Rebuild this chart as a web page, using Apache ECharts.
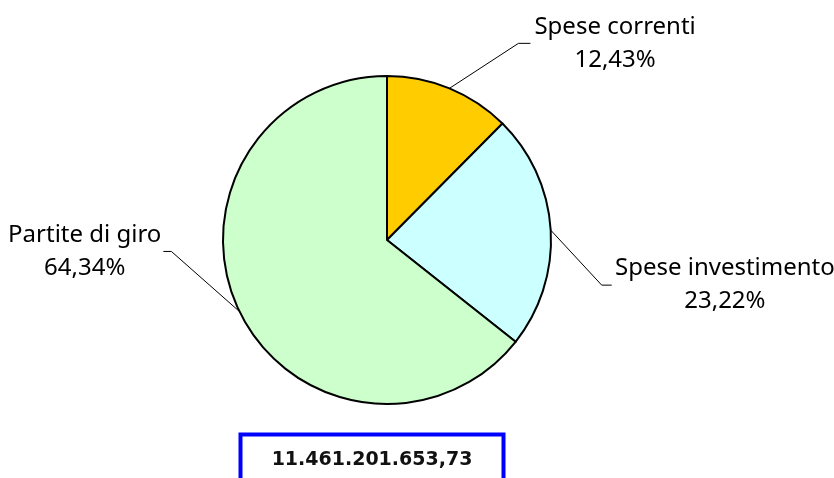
<!DOCTYPE html>
<html>
<head>
<meta charset="utf-8">
<script src="https://cdn.jsdelivr.net/npm/echarts@6/dist/echarts.min.js"></script>
<style>
  html, body { margin: 0; padding: 0; background: #fff; }
  #chart { width: 834px; height: 478px; }
</style>
</head>
<body>
<div id="chart"></div>
<script>
  // voci di spesa (percentuali)
  var categories = ["Spese correnti", "Spese investimento", "Partite di giro"];
  var percentages = [12.43, 23.22, 64.34];
  var sliceColors = ["#FFCC00", "#CCFFFF", "#CCFFCC"];
  var totalLabel = "11.461.201.653,73";

  // direzione delle linee guida (stile Excel, non radiali)
  var guides = [
    { dx: 69, dy: -45, h: 12 },
    { dx: 51, dy: 55, h: 10 },
    { dx: -68, dy: -60, h: -8 }
  ];

  var myChart = echarts.init(document.getElementById("chart"));

  var pieData = [];
  for (var i = 0; i < categories.length; i++) {
    pieData.push({
      name: categories[i],
      value: percentages[i],
      itemStyle: { color: sliceColors[i] }
    });
  }

  var option = {
    backgroundColor: "#fff",
    animation: false,
    graphic: [
      {
        type: "rect",
        shape: { x: 240.5, y: 434.5, width: 263, height: 60 },
        style: { fill: "#fff", stroke: "#0000FF", lineWidth: 4 },
        z: 10
      },
      {
        type: "text",
        x: 372,
        y: 460,
        style: {
          text: totalLabel,
          font: "bold 19px 'DejaVu Sans'",
          fill: "#111",
          align: "center",
          verticalAlign: "middle"
        },
        z: 11
      }
    ],
    series: [
      {
        type: "pie",
        center: [387, 240],
        radius: 164,
        startAngle: 90,
        clockwise: true,
        data: pieData,
        emphasis: { disabled: true },
        itemStyle: { borderColor: "#000", borderWidth: 2 },
        label: {
          show: true,
          position: "outside",
          overflow: "none",
          formatter: function (p) {
            var pct = p.value.toFixed(2).replace(".", ",") + "%";
            return "{n|" + p.name + "}\n{n|" + pct + "}";
          },
          rich: {
            n: {
              fontFamily: "Noto Sans",
              fontSize: 24,
              lineHeight: 33,
              color: "#000",
              align: "center"
            }
          }
        },
        labelLine: {
          show: true,
          length: 40,
          length2: 10,
          lineStyle: { color: "#000", width: 1 }
        },
        labelLayout: function (params) {
          var pts = params.labelLinePoints;
          if (!pts) return {};
          var g = guides[params.dataIndex];
          var p0 = pts[0];
          var p1 = [p0[0] + g.dx, p0[1] + g.dy];
          var p2 = [p1[0] + g.h, p1[1]];
          var right = g.h > 0;
          return {
            x: p2[0] + (right ? 4 : -2),
            y: p2[1],
            align: right ? "left" : "right",
            verticalAlign: "middle",
            labelLinePoints: [p0, p1, p2]
          };
        }
      }
    ]
  };

  myChart.setOption(option);
</script>
</body>
</html>
